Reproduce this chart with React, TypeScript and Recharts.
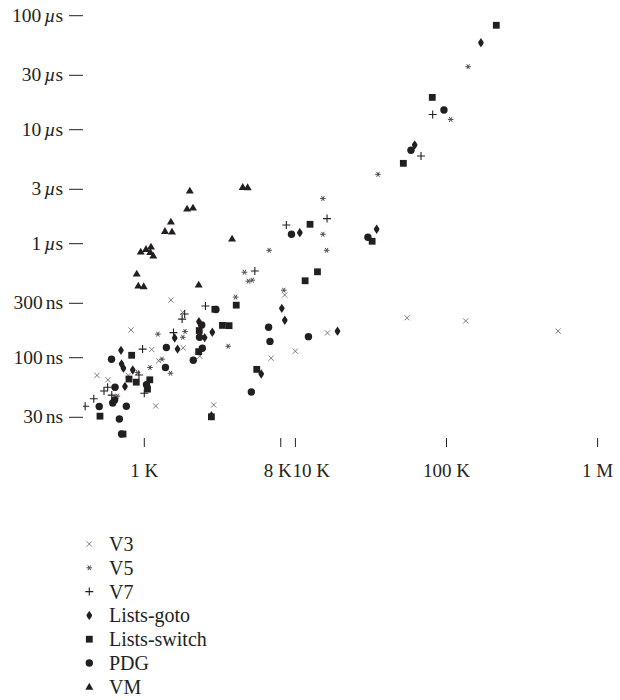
import React from 'react';
import { ScatterChart, Scatter, XAxis, YAxis } from 'recharts';

// [problem size, time per run in ns]
type Pt = [number, number];

const v3: Pt[] = [
  [486, 70], [575, 64], [783, 70], [817, 175], [1120, 118], [1190, 37.7], [1245, 94],
  [1500, 320], [1795, 250], [1810, 122], [2330, 103], [2880, 38.5], [6900, 99],
  [8500, 355], [9990, 114], [16300, 165], [54800, 224], [134000, 210], [548000, 171],
];

const v5: Pt[] = [
  [663, 46], [902, 74], [1090, 82], [1230, 161], [1310, 97], [1490, 73], [1860, 170],
  [1800, 151], [3590, 126], [4020, 340], [4600, 562], [4880, 469], [5180, 479],
  [6700, 875], [8380, 391], [15200, 2490], [15200, 1210], [16100, 875], [35200, 4060],
  [106600, 12300], [139000, 35700],
];

const v7: Pt[] = [
  [406, 37.5], [463, 43.7], [541, 51], [572, 55], [609, 47], [922, 70.5], [974, 119],
  [1000, 48.7], [1560, 166], [1850, 242], [1780, 218], [2540, 284], [5390, 576],
  [8710, 1460], [16200, 1660], [67800, 5880], [81000, 13600],
];

const listsGoto: Pt[] = [
  [701, 116], [707, 88], [728, 81], [745, 56], [839, 78], [1590, 149], [1660, 119],
  [2300, 207], [2510, 150], [2820, 167], [2780, 31], [5940, 72], [8130, 271],
  [8510, 213], [10700, 1250], [19000, 171], [34500, 1340], [61600, 7340], [169000, 58000],
];

const listsSwitch: Pt[] = [
  [509, 30.7], [723, 21.4], [792, 65], [825, 105], [885, 61], [1087, 64], [1050, 53],
  [2290, 113], [2310, 173], [2930, 266], [3290, 192], [3640, 191], [2780, 30.3],
  [4060, 289], [5550, 79], [11600, 473], [14000, 567], [12500, 1480], [32200, 1050],
  [51800, 5070], [80500, 19200], [213600, 82400],
];

const pdg: Pt[] = [
  [503, 37.3], [607, 97], [618, 40], [636, 42.6], [640, 55], [684, 29], [707, 21.4],
  [761, 37.5], [1034, 58], [1380, 82], [1400, 123], [2110, 95], [2320, 151], [2400, 194],
  [2420, 121], [2980, 265], [5110, 50], [6650, 185], [6790, 139], [9420, 1210],
  [12200, 153], [30200, 1140], [58200, 6600], [96200, 14900],
];

const vm: Pt[] = [
  [2000, 2920], [1920, 2030], [2100, 2070], [1500, 1560], [1370, 1290], [1525, 1275],
  [947, 851], [1026, 898], [1107, 941], [1096, 846], [1147, 785], [891, 546], [913, 428],
  [991, 423], [2290, 437], [3810, 1106], [4480, 3140], [4830, 3125],
];

const xTicks = [1000, 8000, 10000, 100000, 1000000];
const xTickLabels = ['1 K', '8 K', '10 K', '100 K', '1 M'];
const yTicks = [30, 100, 300, 1000, 3000, 10000, 30000, 100000];
const yTickLabels = ['30 ns', '100 ns', '300 ns', '1 µs', '3 µs', '10 µs', '30 µs', '100 µs'];

const INK = '#231f20';
const FONT = '"Liberation Serif", "Times New Roman", serif';

type Kind = 'cross' | 'star' | 'plus' | 'diamond' | 'square' | 'circle' | 'triangle';

const series: { name: string; kind: Kind; data: Pt[] }[] = [
  { name: 'V3', kind: 'cross', data: v3 },
  { name: 'V5', kind: 'star', data: v5 },
  { name: 'V7', kind: 'plus', data: v7 },
  { name: 'Lists-goto', kind: 'diamond', data: listsGoto },
  { name: 'Lists-switch', kind: 'square', data: listsSwitch },
  { name: 'PDG', kind: 'circle', data: pdg },
  { name: 'VM', kind: 'triangle', data: vm },
];

function Marker({ kind, cx, cy }: { kind: Kind; cx: number; cy: number }) {
  if (cx == null || cy == null) return null;
  switch (kind) {
    case 'cross': {
      const s = 2.6;
      return (
        <path
          d={`M${cx - s},${cy - s}L${cx + s},${cy + s}M${cx + s},${cy - s}L${cx - s},${cy + s}`}
          stroke="#6d6e71" strokeWidth={0.9} fill="none"
        />
      );
    }
    case 'star': {
      const s = 2.8;
      const dx = s * 0.5;
      const dy = s * 0.866;
      return (
        <path
          d={`M${cx - s},${cy}L${cx + s},${cy}M${cx - dx},${cy - dy}L${cx + dx},${cy + dy}M${cx + dx},${cy - dy}L${cx - dx},${cy + dy}`}
          stroke="#4d4d4f" strokeWidth={1} fill="none"
        />
      );
    }
    case 'plus': {
      const s = 4;
      return (
        <path
          d={`M${cx - s},${cy}L${cx + s},${cy}M${cx},${cy - s}L${cx},${cy + s}`}
          stroke={INK} strokeWidth={1.1} fill="none"
        />
      );
    }
    case 'diamond':
      return (
        <path
          transform={`translate(${cx},${cy})`}
          d="M0,-4.7C1.2,-2.6 2.8,-1 2.8,0C2.8,1 1.2,2.6 0,4.7C-1.2,2.6 -2.8,1 -2.8,0C-2.8,-1 -1.2,-2.6 0,-4.7Z"
          fill={INK}
        />
      );
    case 'square':
      return <rect x={cx - 3.4} y={cy - 3.4} width={6.8} height={6.8} fill={INK} />;
    case 'circle':
      return <circle cx={cx} cy={cy} r={3.7} fill={INK} />;
    case 'triangle':
      return (
        <path
          d={`M${cx},${cy - 4}L${cx + 4},${cy + 2.9}L${cx - 4},${cy + 2.9}Z`}
          fill={INK}
        />
      );
  }
  return null;
}

// 8 K and 10 K sit close together, so their labels are pushed apart
const XTick = (props: any) => {
  const { x, y, payload } = props;
  const label = xTickLabels[xTicks.indexOf(payload.value)] ?? '';
  let anchor: 'middle' | 'start' | 'end' = 'middle';
  let lx = x;
  if (payload.value === 8000) {
    anchor = 'end';
    lx = x + 11;
  } else if (payload.value === 10000) {
    anchor = 'start';
    lx = x - 3;
  }
  return (
    <text x={lx} y={y + 28} textAnchor={anchor} fill={INK} fontSize={19} fontFamily={FONT}>
      {label}
    </text>
  );
};

const YTick = (props: any) => {
  const { x, y, payload } = props;
  const label = yTickLabels[yTicks.indexOf(payload.value)] ?? '';
  const [num, unit] = label.split(' ');
  return (
    <text x={x - 6} y={y + 6} textAnchor="end" fill={INK} fontSize={19.5} fontFamily={FONT}>
      {num}
      <tspan dx={3}>
        {unit.startsWith('µ') ? <tspan fontStyle="italic">µ</tspan> : unit[0]}
        {unit.slice(1)}
      </tspan>
    </text>
  );
};

const Legend = () => (
  <svg width={620} height={700} style={{ position: 'absolute', left: 0, top: 0 }}>
    {series.map((s, i) => {
      const cy = 544 + i * 23.8;
      return (
        <g key={s.name}>
          <Marker kind={s.kind} cx={89.3} cy={cy} />
          <text x={109} y={cy + 7} fill={INK} fontSize={20} fontFamily={FONT}>
            {s.name}
          </text>
        </g>
      );
    })}
  </svg>
);

export default function App() {
  return (
    <div style={{ position: 'absolute', left: 0, top: 0, width: 620, height: 700, background: '#fff' }}>
      <ScatterChart width={620} height={700} margin={{ top: 10, right: 10.44, bottom: 202, left: 0 }}>
        <XAxis
          type="number"
          dataKey="x"
          scale="log"
          domain={[393, 1200000]}
          ticks={xTicks}
          interval={0}
          allowDataOverflow
          axisLine={false}
          tickSize={9}
          tickMargin={2}
          stroke={INK}
          height={60}
          tick={<XTick />}
        />
        <YAxis
          type="number"
          dataKey="y"
          scale="log"
          domain={[19.75, 112200]}
          ticks={yTicks}
          interval={0}
          allowDataOverflow
          axisLine={false}
          tickSize={14}
          tickMargin={0}
          stroke={INK}
          width={83.01}
          tick={<YTick />}
        />
        {series.map((s) => (
          <Scatter
            key={s.name}
            name={s.name}
            data={s.data.map(([x, y]) => ({ x, y }))}
            isAnimationActive={false}
            shape={(p: any) => <Marker kind={s.kind} cx={p.cx} cy={p.cy} />}
          />
        ))}
      </ScatterChart>
      <Legend />
    </div>
  );
}
